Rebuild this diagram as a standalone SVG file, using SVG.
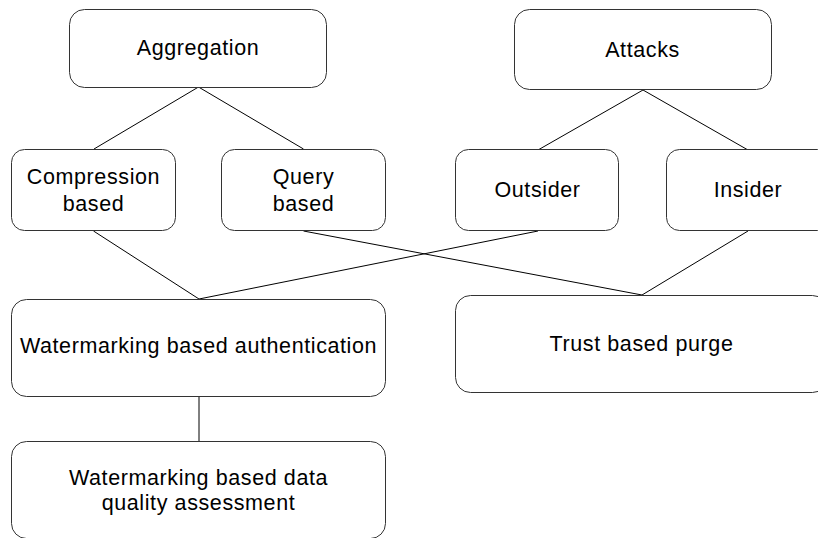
<svg xmlns="http://www.w3.org/2000/svg" width="818" height="538" viewBox="0 0 818 538">
  <style>
    .box { fill: #ffffff; stroke: #333333; stroke-width: 1; }
    .lbl { font-family: "Liberation Sans", Arial, sans-serif; font-size: 21.5px; letter-spacing: 0.6px; fill: #000000; text-anchor: middle; }
    .edge { stroke: #000000; stroke-width: 1; fill: none; }
  </style>
  <rect width="818" height="538" fill="#ffffff"/>

  <!-- connectors -->
  <g id="connectors">
    <line class="edge" x1="198.5" y1="87" x2="94" y2="149"/>
    <line class="edge" x1="198.5" y1="87" x2="303.5" y2="149"/>
    <line class="edge" x1="643" y1="90" x2="538" y2="150"/>
    <line class="edge" x1="643" y1="90" x2="748" y2="150"/>
    <line class="edge" x1="93.5" y1="231" x2="199" y2="299"/>
    <line class="edge" x1="538" y1="231" x2="199" y2="299"/>
    <line class="edge" x1="303.5" y1="231" x2="642" y2="295"/>
    <line class="edge" x1="748" y1="231" x2="642" y2="295"/>
    <line class="edge" x1="199" y1="397" x2="199" y2="442"/>
  </g>

  <g id="aggregation">
    <rect class="box" x="69.5" y="9.5" width="257" height="78" rx="15"/>
    <text class="lbl" x="198" y="55">Aggregation</text>
  </g>
  <g id="attacks">
    <rect class="box" x="514.5" y="9.5" width="257" height="80" rx="15"/>
    <text class="lbl" x="642.5" y="56.5">Attacks</text>
  </g>
  <g id="compression">
    <rect class="box" x="11.5" y="149.5" width="164" height="81" rx="13"/>
    <text class="lbl" x="93.5" y="184">Compression</text>
    <text class="lbl" x="93.5" y="210.5">based</text>
  </g>
  <g id="query">
    <rect class="box" x="221.5" y="149.5" width="164" height="81" rx="13"/>
    <text class="lbl" x="303.5" y="184">Query</text>
    <text class="lbl" x="303.5" y="210.5">based</text>
  </g>
  <g id="outsider">
    <rect class="box" x="455.5" y="149.5" width="163" height="81" rx="13"/>
    <text class="lbl" x="537.5" y="196.5">Outsider</text>
  </g>
  <g id="insider">
    <rect class="box" x="666.5" y="149.5" width="164" height="81" rx="13"/>
    <text class="lbl" x="748" y="196.5">Insider</text>
  </g>
  <g id="wm-auth">
    <rect class="box" x="11.5" y="299.5" width="374" height="97" rx="15"/>
    <text class="lbl" x="198.5" y="353">Watermarking based authentication</text>
  </g>
  <g id="trust-purge">
    <rect class="box" x="455.5" y="295.5" width="372" height="97" rx="15"/>
    <text class="lbl" x="641.5" y="350.5">Trust based purge</text>
  </g>
  <g id="wm-quality">
    <rect class="box" x="11.5" y="441.5" width="374" height="97" rx="15"/>
    <text class="lbl" x="198.5" y="485">Watermarking based data</text>
    <text class="lbl" x="198.5" y="510">quality assessment</text>
  </g>
</svg>
